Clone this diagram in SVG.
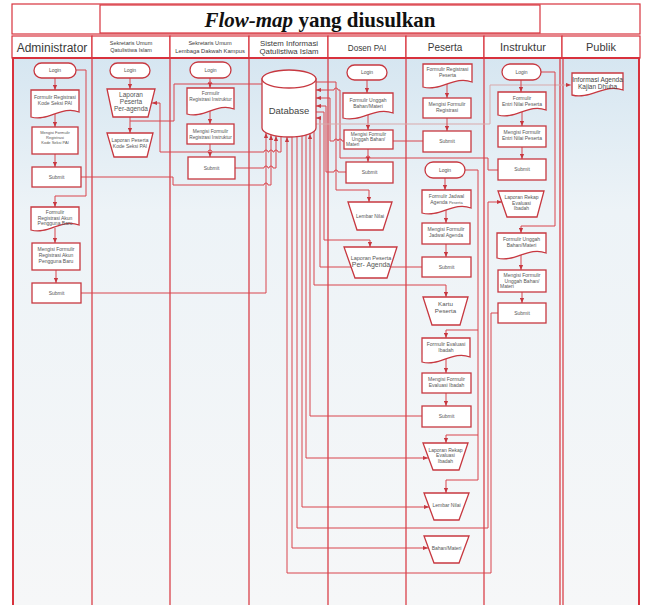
<svg xmlns="http://www.w3.org/2000/svg" width="646" height="605" viewBox="0 0 646 605">
<defs>
<linearGradient id="laneBg" x1="0" y1="0" x2="0" y2="1">
<stop offset="0" stop-color="#d6e6f1"/>
<stop offset="0.28" stop-color="#edf3f7"/>
<stop offset="1" stop-color="#f6f7f8"/>
</linearGradient>
<marker id="ah" viewBox="0 0 6 6" refX="6" refY="3" markerWidth="5" markerHeight="5" markerUnits="userSpaceOnUse" orient="auto">
<path d="M0,0.5 L6,3 L0,5.5 Z" fill="#c73840"/>
</marker>
<style>
.frame{fill:#fff;stroke:#d8323d;stroke-width:1.2}
.lane{fill:none;stroke:#d8323d;stroke-width:1.2}
.outer{fill:none;stroke:#d8323d;stroke-width:2}
.ln{fill:none;stroke:#d9454d;stroke-width:1}
.a{marker-end:url(#ah)}
.pale{fill:none;stroke:#d9a9ab;stroke-width:1}
.nd{fill:#fff;stroke:#c73840;stroke-width:1.3}
.t{font-family:"Liberation Sans",Arial,sans-serif;fill:#555;text-anchor:middle;font-size:5px}
.h{font-family:"Liberation Sans",Arial,sans-serif;fill:#3a3a3a;text-anchor:middle}
.s4{font-size:4px}
.s48{font-size:4.8px}
.s55{font-size:5.5px}
.s6{font-size:6.2px}
.s65{font-size:6.5px}
.s68{font-size:6.9px}
.dk{fill:#444}
.st{text-anchor:start}
</style>
</defs>

<rect x="0" y="0" width="646" height="605" fill="#fff"/>

<!-- title row -->
<g id="title">
<rect class="frame" x="12" y="4" width="628" height="30"/>
<rect class="frame" x="100" y="5" width="440" height="28"/>
<text x="320" y="27" text-anchor="middle" font-family="'Liberation Serif','Times New Roman',serif" font-weight="bold" font-size="21" fill="#111"><tspan font-style="italic">Flow-map</tspan> yang diusulkan</text>
</g>

<!-- swimlane headers -->
<g id="headers">
<rect class="frame" x="12" y="36" width="80" height="22"/>
<rect class="frame" x="92" y="36" width="78" height="22"/>
<rect class="frame" x="170" y="36" width="79" height="22"/>
<rect class="frame" x="249" y="36" width="79" height="22"/>
<rect class="frame" x="328" y="36" width="78" height="22"/>
<rect class="frame" x="406" y="36" width="78" height="22"/>
<rect class="frame" x="484" y="36" width="78" height="22"/>
<rect class="frame" x="562" y="36" width="78" height="22"/>
<text class="h" x="52" y="51.5" font-size="12">Administrator</text>
<text class="h" x="131" y="45" font-size="5.5">Sekretaris Umum</text>
<text class="h" x="131" y="52" font-size="5.5">Qatulistiwa Islam</text>
<text class="h" x="210" y="45" font-size="5.6">Sekretaris Umum</text>
<text class="h" x="210" y="52.5" font-size="5.8">Lembaga Dakwah Kampus</text>
<text class="h" x="289" y="45.5" font-size="7.8">Sistem Informasi</text>
<text class="h" x="289" y="54" font-size="7.8">Qatulistiwa Islam</text>
<text class="h" x="367" y="50.5" font-size="8.2">Dosen PAI</text>
<text class="h" x="445" y="51" font-size="10">Peserta</text>
<text class="h" x="523" y="51" font-size="11">Instruktur</text>
<text class="h" x="601" y="51" font-size="11">Publik</text>
</g>

<!-- swimlane bodies -->
<g id="lanes">
<rect x="12" y="58" width="628" height="547" fill="url(#laneBg)"/>
<path class="lane" d="M92,58 V605 M170,58 V605 M249,58 V605 M328,58 V605 M406,58 V605 M484,58 V605 M560,58 V605 M563,58 V605"/>
<rect class="outer" x="13" y="58" width="626" height="548"/>
</g>

<!-- connectors -->
<g id="connectors">
<!-- Administrator -->
<path class="ln a" d="M76,70 H86 V196 H55 V207"/>
<path class="ln a" d="M55,78 V90"/>
<path class="ln a" d="M55,114 V127"/>
<path class="ln a" d="M55,154 V167"/>
<path class="ln a" d="M55,228 V243"/>
<path class="ln a" d="M56,270 V283"/>
<path class="ln a" d="M81,177 H173 V185 H264 A2,2 0 0 1 268,185 H271 V135"/>
<path class="ln a" d="M81,293 H266 V133"/>
<!-- Sekretaris Umum Qatulistiwa Islam -->
<path class="ln a" d="M130,78 V89"/>
<path class="ln a" d="M130,117 V133"/>
<path class="ln a" d="M281,130 V152 H278 A2,2 0 0 0 274,152 H273 A2,2 0 0 0 269,152 H268 A2,2 0 0 0 264,152 H212 A2,2 0 0 0 208,152 H160 V103 H152"/>
<path class="ln" d="M262,84 H212 A2,2 0 0 0 208,84 H174 V121 H130"/>
<!-- Lembaga Dakwah Kampus -->
<path class="ln a" d="M210,78 V88"/>
<path class="ln a" d="M210,111 V124"/>
<path class="ln a" d="M210,144 V157"/>
<path class="ln a" d="M235,168 H264 A2,2 0 0 1 268,168 H269 A2,2 0 0 1 273,168 H276 V136"/>
<!-- Dosen PAI -->
<path class="ln a" d="M367,80 V93"/>
<path class="ln a" d="M368,115 V130"/>
<path class="ln a" d="M368,149 V162"/>
<path class="ln a" d="M316,82 H336 V190 H369 V202"/>
<path class="ln a" d="M498,170 H488 V158 H370 A2,2 0 0 0 366,158 H340 V90 H338 A2,2 0 0 0 334,90 H316"/>
<path class="ln a" d="M423,141 H342 A2,2 0 0 0 338,141 A2,2 0 0 0 334,141 H330 V98 H316"/>
<path class="ln a" d="M346,172 H338 A2,2 0 0 0 334,172 H326 V106 H316"/>
<path class="ln a" d="M316,112 H324 V240 H370 V247"/>
<path class="ln a" d="M422,267 H320 V118 H316"/>
<path class="pale a" d="M316,124 H490 V85 H571"/>
<!-- Peserta -->
<path class="ln a" d="M447,84 V98"/>
<path class="ln a" d="M447,118 V131"/>
<path class="ln a" d="M445,178 V190"/>
<path class="ln a" d="M446,210 V223"/>
<path class="ln a" d="M446,244 V257"/>
<path class="ln a" d="M314,128 V285 H446 V297"/>
<path class="ln a" d="M465,170 H478 V480 H446 V493"/>
<path class="ln a" d="M478,330 H446 V338"/>
<path class="ln a" d="M478,435 H446 V443"/>
<path class="ln a" d="M446,359 V373"/>
<path class="ln a" d="M446,393 V406"/>
<path class="ln a" d="M422,416 H310 V134"/>
<path class="ln a" d="M306,128 V458 H428"/>
<path class="ln a" d="M302,128 V507 H429"/>
<path class="ln a" d="M297,128 V528 H488 V202 H502"/>
<path class="ln a" d="M292,128 V548 H428"/>
<path class="ln a" d="M498,313 H491 V573 H287 V137"/>
<!-- Instruktur -->
<path class="ln a" d="M521,80 V92"/>
<path class="ln a" d="M522,112 V126"/>
<path class="ln a" d="M522,147 V159"/>
<path class="ln a" d="M541,72 H555 V226 H521 V233"/>
<path class="ln a" d="M521,255 V270"/>
<path class="ln a" d="M522,292 V303"/>
</g>

<!-- Administrator -->
<g id="admin-login"><rect class="nd" x="34" y="63" width="42" height="15" rx="7.5"/><text class="t" x="55" y="72.3">Login</text></g>
<g id="admin-form-kode-seksi"><path class="nd" d="M31,90 H79 V112 C62.2,105 47.8,122 31,117 Z"/><text class="t" x="55" y="98.5">Formulir Registrasi</text><text class="t" x="55" y="104.5">Kode  Seksi PAI</text></g>
<g id="admin-isi-kode-seksi"><rect class="nd" x="32" y="127" width="46" height="27"/><text class="t s4" x="55" y="134">Mengisi Formulir</text><text class="t s4" x="55" y="139">Registrasi</text><text class="t s4" x="55" y="144">Kode Seksi PAI</text></g>
<g id="admin-submit-1"><rect class="nd" x="32" y="167" width="49" height="20"/><text class="t" x="56.5" y="178.8">Submit</text></g>
<g id="admin-form-akun"><path class="nd" d="M31,207 H79 V225 C62.2,218 47.8,235 31,230 Z"/><text class="t" x="55" y="213.5">Formulir</text><text class="t" x="55" y="219.5">Registrasi Akun</text><text class="t" x="55" y="225.3">Pengguna Baru</text></g>
<g id="admin-isi-akun"><rect class="nd" x="32" y="243" width="48" height="27"/><text class="t" x="56" y="251">Mengisi Formulir</text><text class="t" x="56" y="257">Registrasi Akun</text><text class="t" x="56" y="263">Pengguna Baru</text></g>
<g id="admin-submit-2"><rect class="nd" x="32" y="283" width="49" height="20"/><text class="t" x="56.5" y="294.8">Submit</text></g>

<!-- Sekretaris Umum Qatulistiwa Islam -->
<g id="sqi-login"><rect class="nd" x="110" y="63" width="40" height="15" rx="7.5"/><text class="t" x="130" y="72.3">Login</text></g>
<g id="sqi-laporan-agenda"><polygon class="nd" points="107,89 155,89 148,117 113,117"/><text class="t s65" x="131" y="97">Laporan</text><text class="t s65" x="131" y="104">Peserta</text><text class="t s65" x="131" y="111">Per-agenda</text></g>
<g id="sqi-laporan-kode"><polygon class="nd" points="107,133 153,133 147,157 114,157"/><text class="t" x="130" y="142">Laporan Peserta</text><text class="t" x="130" y="148">Kode Seksi PAI</text></g>

<!-- Sekretaris Umum Lembaga Dakwah Kampus -->
<g id="ldk-login"><rect class="nd" x="190" y="62" width="41" height="16" rx="8"/><text class="t" x="210.5" y="71.8">Login</text></g>
<g id="ldk-form-instruktur"><path class="nd" d="M187,88 H234 V109 C217.6,102 203.5,119 187,114 Z"/><text class="t s48" x="210.5" y="95">Formulir</text><text class="t s48" x="210.5" y="101">Registrasi Instruktur</text></g>
<g id="ldk-isi-instruktur"><rect class="nd" x="187" y="124" width="47" height="20"/><text class="t s48" x="210.5" y="132.5">Mengisi Formulir</text><text class="t s48" x="210.5" y="138.5">Registrasi Instruktur</text></g>
<g id="ldk-submit"><rect class="nd" x="188" y="157" width="47" height="22"/><text class="t" x="211.5" y="169.8">Submit</text></g>

<!-- Sistem Informasi Qatulistiwa Islam -->
<g id="database">
<path class="nd" d="M262,79 V128 A27,9 0 0 0 316,128 V79 Z"/>
<ellipse class="nd" cx="289" cy="79" rx="27" ry="9"/>
<text x="289" y="114" text-anchor="middle" font-family="'Liberation Sans',Arial,sans-serif" font-size="9.5" fill="#444">Database</text>
</g>

<!-- Dosen PAI -->
<g id="dosen-login"><rect class="nd" x="347" y="65" width="40" height="15" rx="7.5"/><text class="t" x="367" y="74.3">Login</text></g>
<g id="dosen-form-unggah"><path class="nd" d="M343,93 H393 V113 C375.5,106 360.5,123 343,118 Z"/><text class="t" x="368" y="101.5">Formulir Unggah</text><text class="t" x="368" y="107.5">Bahan/Materi</text></g>
<g id="dosen-isi-unggah"><rect class="nd" x="344" y="130" width="49" height="19"/><text class="t s48" x="368.5" y="136">Mengisi Formulir</text><text class="t s48" x="368.5" y="141">Unggah Bahan/</text><text class="t s48 st" x="346" y="146">Materi</text></g>
<g id="dosen-submit"><rect class="nd" x="346" y="162" width="47" height="21"/><text class="t" x="369.5" y="174.3">Submit</text></g>
<g id="dosen-lembar-nilai"><polygon class="nd" points="348,202 392,202 383,230 357,230"/><text class="t" x="370" y="217.8">Lembar Nilai</text></g>
<g id="dosen-laporan-agenda"><polygon class="nd" points="344,247 397,247 387,278 355,278"/><text class="t s55" x="371" y="259.5">Laporan Peserta</text><text class="t s68" x="371" y="266.8">Per- Agenda</text></g>

<!-- Peserta -->
<g id="peserta-form-registrasi"><path class="nd" d="M423,64 H472 V82 C454.9,75 440.2,92 423,87 Z"/><text class="t" x="447.5" y="71">Formulir Registrasi</text><text class="t" x="447.5" y="77">Peserta</text></g>
<g id="peserta-isi-registrasi"><rect class="nd" x="423" y="98" width="48" height="20"/><text class="t" x="447" y="106">Mengisi Formulir</text><text class="t" x="447" y="112">Registrasi</text></g>
<g id="peserta-submit-1"><rect class="nd" x="423" y="131" width="48" height="21"/><text class="t" x="447" y="143.3">Submit</text></g>
<g id="peserta-login"><rect class="nd" x="425" y="162" width="40" height="16" rx="8"/><text class="t" x="445" y="171.8">Login</text></g>
<g id="peserta-form-jadwal"><path class="nd" d="M422,190 H471 V208 C453.9,201 439.2,218 422,213 Z"/><text class="t" x="446.5" y="197.5">Formulir Jadwal</text><text class="t" x="446.5" y="203.5">Agenda <tspan font-size="4">Peserta</tspan></text></g>
<g id="peserta-isi-jadwal"><rect class="nd" x="422" y="223" width="48" height="21"/><text class="t" x="446" y="231">Mengisi Formulir</text><text class="t" x="446" y="237">Jadwal Agenda</text></g>
<g id="peserta-submit-2"><rect class="nd" x="422" y="257" width="49" height="20"/><text class="t" x="446.5" y="268.8">Submit</text></g>
<g id="peserta-kartu"><polygon class="nd" points="423,297 468,297 460,325 432,325"/><text class="t s6" x="445.5" y="306">Kartu</text><text class="t s6" x="445.5" y="313">Peserta</text></g>
<g id="peserta-form-evaluasi"><path class="nd" d="M422,338 H470 V357 C453.2,350 438.8,367 422,362 Z"/><text class="t" x="446" y="345.5">Formulir Evaluasi</text><text class="t" x="446" y="351.5">Ibadah</text></g>
<g id="peserta-isi-evaluasi"><rect class="nd" x="422" y="373" width="49" height="20"/><text class="t" x="446.5" y="381">Mengisi Formulir</text><text class="t" x="446.5" y="387">Evaluasi Ibadah</text></g>
<g id="peserta-submit-3"><rect class="nd" x="422" y="406" width="49" height="21"/><text class="t" x="446.5" y="418.3">Submit</text></g>
<g id="peserta-laporan-rekap"><polygon class="nd" points="423,443 468,443 459,470 433,470"/><text class="t" x="445.5" y="451.5">Laporan Rekap</text><text class="t" x="445.5" y="457">Evaluasi</text><text class="t" x="445.5" y="462.5">Ibadah</text></g>
<g id="peserta-lembar-nilai"><polygon class="nd" points="424,493 469,493 459,520 434,520"/><text class="t" x="446.5" y="506.8">Lembar Nilai</text></g>
<g id="peserta-bahan-materi"><polygon class="nd" points="424,536 469,536 459,563 434,563"/><text class="t" x="446.5" y="549.8">Bahan/Materi</text></g>

<!-- Instruktur -->
<g id="instruktur-login"><rect class="nd" x="502" y="64" width="39" height="16" rx="8"/><text class="t" x="521.5" y="73.8">Login</text></g>
<g id="instruktur-form-nilai"><path class="nd" d="M498,92 H546 V110 C529.2,103 514.8,120 498,115 Z"/><text class="t" x="522" y="99.5">Formulir</text><text class="t" x="522" y="105.5">Entri Nilai Peserta</text></g>
<g id="instruktur-isi-nilai"><rect class="nd" x="498" y="126" width="48" height="21"/><text class="t" x="522" y="134">Mengisi Formulir</text><text class="t" x="522" y="140">Entri Nilai Peserta</text></g>
<g id="instruktur-submit-1"><rect class="nd" x="498" y="159" width="48" height="21"/><text class="t" x="522" y="171.3">Submit</text></g>
<g id="instruktur-laporan-rekap"><polygon class="nd" points="498,191 544,191 537,217 507,217"/><text class="t" x="521.5" y="199">Laporan Rekap</text><text class="t" x="521.5" y="204.5">Evaluasi</text><text class="t" x="521.5" y="210">Ibadah</text></g>
<g id="instruktur-form-unggah"><path class="nd" d="M497,233 H546 V253 C528.9,246 514.2,263 497,258 Z"/><text class="t" x="521.5" y="241">Formulir Unggah</text><text class="t" x="521.5" y="247">Bahan/Materi</text></g>
<g id="instruktur-isi-unggah"><rect class="nd" x="498" y="270" width="48" height="22"/><text class="t" x="522" y="277">Mengisi Formulir</text><text class="t" x="522" y="282.5">Unggah Bahan/</text><text class="t st" x="500" y="288">Materi</text></g>
<g id="instruktur-submit-2"><rect class="nd" x="498" y="303" width="48" height="20"/><text class="t" x="522" y="314.8">Submit</text></g>

<!-- Publik -->
<g id="publik-informasi"><path class="nd" d="M572,73 H623 V90 C605.2,83 589.9,100 572,95 Z"/><text class="t s65 dk" x="597.5" y="82">Informasi Agenda</text><text class="t s65 dk" x="597.5" y="89">Kajian Dhuha</text></g>
</svg>
